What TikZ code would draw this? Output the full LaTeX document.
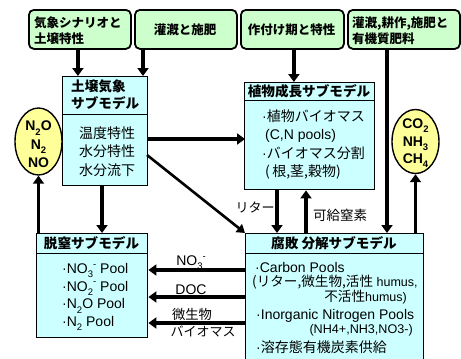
\documentclass[tikz,border=0pt]{standalone}
\usepackage{fontspec}
\setmainfont{Liberation Sans}
\newfontfamily\jp{Noto Sans CJK JP}
\usetikzlibrary{arrows.meta,shapes.geometric}
\definecolor{topg}{HTML}{CCFFCC}
\definecolor{cy}{HTML}{CCFFFF}
\definecolor{yel}{HTML}{FFFF99}
\newcommand\mysb[1]{\raisebox{-0.3em}{\fontsize{9.5}{9.5}\selectfont #1}}
\newcommand\mysp[1]{\raisebox{0.45em}{\fontsize{9.5}{9.5}\selectfont #1}}
\newcommand\tfont{\jp\bfseries\fontsize{12.5}{16.5}\selectfont}
\newcommand\hfont{\jp\bfseries\fontsize{13.6}{17}\selectfont}
\newcommand\jfont{\jp\fontsize{14}{18.3}\selectfont}
\newcommand\lfont{\fontsize{14}{17.7}\selectfont}
\begin{document}
\begin{tikzpicture}[x=1pt,y=-1pt,
  topbox/.style={draw, line width=1.8, rounded corners=5, fill=topg, anchor=north west, inner sep=0},
  boxh/.style={draw, line width=1.4, fill=cy, anchor=north west, inner sep=0},
  txt/.style={inner sep=0, align=left},
  gas/.style={ellipse, draw, line width=1.4, fill=yel, inner sep=0},
  arr/.style={line width=3.2, -{Triangle[width=11pt,length=8pt]}},
  darr/.style={line width=2.6, -{Triangle[width=10pt,length=8pt]}}
]
\useasboundingbox (0,0) rectangle (461,359);
\fill[white] (0,0) rectangle (461,359);

% top input boxes
\node[topbox, minimum width=102, minimum height=39] (t1) at (28,9) {};
\node[txt, anchor=west, font=\tfont] (t1txt) at (34,30.5) {気象シナリオと\\土壌特性};
\node[topbox, minimum width=102, minimum height=39] (t2) at (134,9) {};
\node[txt, font=\tfont] (t2txt) at (185,30) {灌漑と施肥};
\node[topbox, minimum width=103, minimum height=39] (t3) at (240,9) {};
\node[txt, font=\tfont] (t3txt) at (291.5,30) {作付け期と特性};
\node[topbox, minimum width=112, minimum height=39] (t4) at (347,9) {};
\node[txt, anchor=west, font=\tfont] (t4txt) at (352,30.5) {灌漑,耕作,施肥と\\有機質肥料};

% soil weather submodel
\node[boxh, minimum width=85, minimum height=38] (soilH) at (62,76) {};
\node[txt, anchor=west, font=\hfont] (soilHt) at (71,95) {土壌気象\\サブモデル};
\node[boxh, minimum width=85, minimum height=71] (soilB) at (62,114) {};
\node[txt, anchor=west, font=\jfont] (soilBt) at (79,151.5) {温度特性\\水分特性\\水分流下};

% plant growth submodel
\node[boxh, minimum width=130, minimum height=18] (plantH) at (244,82) {};
\node[txt, font=\hfont] (plantHt) at (309,91) {植物成長サブモデル};
\node[boxh, minimum width=130, minimum height=89] (plantB) at (244,100) {};
\node[txt, anchor=west, font=\fontsize{14}{18.3}\selectfont] (plantBt) at (262,144.5)
  {·{\jp 植物バイオマス}\\\hspace*{3pt}(C,N pools)\\·{\jp バイオマス分割}\\\hspace*{3pt}{\jp (\,根,茎,穀物)}};

% denitrification submodel
\node[boxh, minimum width=111, minimum height=20] (denH) at (36,233) {};
\node[txt, font=\hfont] (denHt) at (91.5,243.5) {脱窒サブモデル};
\node[boxh, minimum width=111, minimum height=84] (denB) at (36,253) {};
\node[txt, anchor=west, font=\lfont] (denBt) at (62,297)
  {·NO\mysb{3}\mysp{-} Pool\\·NO\mysb{2}\mysp{-} Pool\\·N\mysb{2}O Pool\\·N\mysb{2} Pool};

% decomposition submodel
\node[boxh, minimum width=178, minimum height=20] (decH) at (245,233) {};
\node[txt, font=\hfont] (decHt) at (334,243.5) {腐敗 分解サブモデル};
\node[boxh, minimum width=178, minimum height=115] (decB) at (245,253) {};
\node[txt, anchor=west, font=\lfont] (dc1) at (255,267) {·Carbon Pools};
\node[txt, anchor=west, font=\fontsize{12.5}{14}\selectfont] (dc2) at (252,282) {{\jp\fontsize{13.6}{14}\selectfont (リター,微生物,活性} humus,};
\node[txt, anchor=east, font=\fontsize{12.5}{14}\selectfont] (dc3) at (407,297) {{\jp\fontsize{13.6}{14}\selectfont 不活性}humus)};
\node[txt, anchor=west, font=\lfont] (dc4) at (256,316) {·Inorganic Nitrogen Pools};
\node[txt, anchor=east, font=\fontsize{12.6}{14}\selectfont] (dc5) at (413,330) {(NH4+,NH3,NO3-)};
\node[txt, anchor=west, font=\lfont] (dc6) at (256,347) {·{\jfont 溶存態有機炭素供給}};

% gas ellipses
\node[gas, minimum width=47, minimum height=67] (lg) at (38.5,141.5) {};
\node[txt, align=center, font=\bfseries\fontsize{14}{18.5}\selectfont] (lgt) at (38.5,144.5) {N\mysb{2}O\\N\mysb{2}\\NO};
\node[gas, minimum width=47, minimum height=64] (rg) at (415.5,141.5) {};
\node[txt, align=center, font=\bfseries\fontsize{14}{17.5}\selectfont] (rgt) at (415.5,143.5) {CO\mysb{2}\\NH\mysb{3}\\CH\mysb{4}};

% connector labels
\node[txt, font=\jp\fontsize{13}{14}\selectfont] (llit) at (255,207) {リター};
\node[txt, font=\jp\fontsize{13.5}{14}\selectfont] (lkyu) at (340,215) {可給窒素};
\node[txt, font=\lfont] (lno3) at (191,263) {NO\mysb{3}\mysp{-}};
\node[txt, font=\lfont] (ldoc) at (191,290) {DOC};
\node[txt, font=\jp\fontsize{13.3}{14}\selectfont] (lmic) at (192,314) {微生物};
\node[txt, font=\jp\fontsize{13}{14}\selectfont] (lbio) at (203,331) {バイオマス};

% connector end points
\coordinate (c2) at (143,76);
\coordinate (c4) at (387,233);
\coordinate (c5) at (245,139);
\coordinate (c6) at (147,155);
\coordinate (c7) at (102,233);
\coordinate (c9) at (277,233);
\coordinate (c10) at (306,233);
\coordinate (d1) at (245,270);
\coordinate (d2) at (245,297);
\coordinate (d3) at (245,323);

% connectors
\draw[arr] ([xshift=-2pt]t1.south) -- ([xshift=-2pt]t1.south |- soilH.north);
\draw[arr] (t2.south -| c2) -- (c2);
\draw[arr] ([xshift=1.5pt]t3.south) -- ([xshift=1.5pt]t3.south |- plantH.north);
\draw[arr] (t4.south -| c4) -- (c4);
\draw[arr] (soilB.east |- c5) -- (c5);
\draw[darr] (c6) -- (decH.north west);
\draw[arr] (soilB.south -| c7) -- (c7);
\draw[arr] (denH.north -| lg.south) -- (lg.south);
\draw[arr] (plantB.south -| c9) -- (c9);
\draw[arr] (c10) -- (plantB.south -| c10);
\draw[arr] (decH.north -| rg.south) -- (rg.south);
\draw[arr] (d1) -- (denB.east |- d1);
\draw[arr] (d2) -- (denB.east |- d2);
\draw[arr] (d3) -- (denB.east |- d3);
\end{tikzpicture}
\end{document}
